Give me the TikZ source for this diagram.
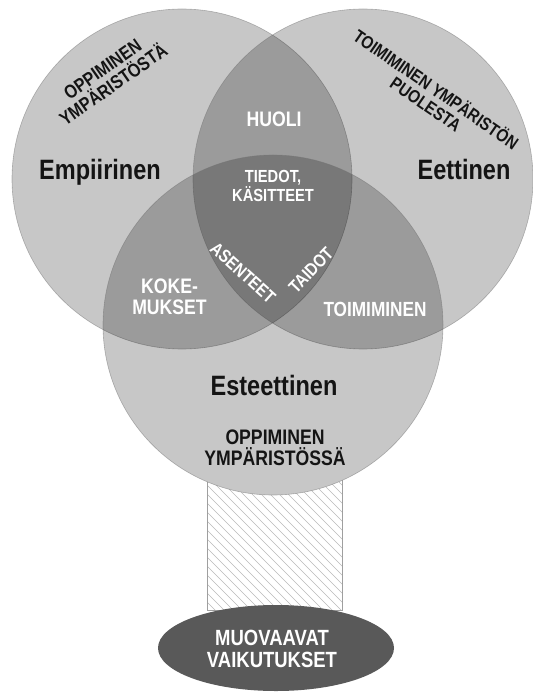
\documentclass[tikz,border=0pt]{standalone}
\usepackage{fontspec}
\setmainfont{Liberation Sans}
\newfontfamily\narrowbold{Liberation Sans Bold}[FakeStretch=0.84]
\usetikzlibrary{shapes.geometric}

\tikzset{
  venn/.style={fill=black, fill opacity=0.22, draw=black!55, draw opacity=0.5, line width=0.6pt},
  biglabel/.style={font=\narrowbold\fontsize{28}{30}\selectfont, text=black!92, anchor=base},
  darklabel/.style={font=\narrowbold\fontsize{#1}{#1}\selectfont, text=black!92, align=center},
  whitelabel/.style={font=\narrowbold\fontsize{#1}{#1}\selectfont, text=white, align=center},
  hatch/.style={draw=gray!55, line width=0.4pt},
  stemframe/.style={draw=gray!75, line width=0.8pt},
  effectbox/.style={ellipse, fill=black!65, minimum width=236pt, minimum height=86pt, inner sep=0pt}
}

\begin{document}
\begin{tikzpicture}[x=1pt, y=-1pt]
\useasboundingbox (0,0) rectangle (532,692);

% hatched stem below the lower circle
\begin{scope}
  \clip (207,440) rectangle (342,610);
  \foreach \k in {-189,-180,...,144}
    \draw[hatch] (207+\k,440) -- ++(180,180);
\end{scope}
\draw[stemframe] (207,440) rectangle (342,610);

% opaque backing for the lower circle, then the three translucent circles
\fill[white] (273,325) circle[radius=170];
\path[venn] (182,179) circle[radius=170];
\path[venn] (363,179) circle[radius=170];
\path[venn] (273,325) circle[radius=170];

% ellipse at the foot of the stem
\node[effectbox] (effects) at (276,648) {};
\node[whitelabel=22] (effectstext) at (272,648.6)
  {\fontsize{22}{23}\selectfont MUOVAAVAT\\VAIKUTUKSET};

% circle names
\node[biglabel] (emp) at (100,180) {Empiirinen};
\node[biglabel] (eet) at (464,180) {Eettinen};
\node[biglabel] (est) at (274,395) {Esteettinen};

% outer captions
\node[darklabel=19, rotate=35] (fromenv) at (108,77)
  {\fontsize{19}{21}\selectfont OPPIMINEN\\YMPÄRISTÖSTÄ};
\node[darklabel=18, rotate=-34.6] (forenv) at (431.5,96)
  {\fontsize{18}{25}\selectfont TOIMIMINEN YMPÄRISTÖN\\PUOLESTA};
\node[darklabel=21] (inenv) at (275,447.5)
  {\fontsize{21}{20}\selectfont OPPIMINEN\\YMPÄRISTÖSSÄ};

% overlap labels
\node[whitelabel=21, anchor=base] (huoli) at (274,127) {HUOLI};
\node[whitelabel=17.5] (tiedot) at (273,186.3)
  {\fontsize{17.5}{19}\selectfont TIEDOT,\\KÄSITTEET};
\node[whitelabel=21] (kokemukset) at (169.5,296.5)
  {\fontsize{21}{24}\selectfont KOKE-\\MUKSET};
\node[whitelabel=20.5, anchor=base] (toim) at (375,316) {TOIMIMINEN};
\node[whitelabel=18, rotate=-42] (asenteet) at (243,273) {ASENTEET};
\node[whitelabel=18, rotate=46] (taidot) at (311,270) {TAIDOT};
\end{tikzpicture}
\end{document}
